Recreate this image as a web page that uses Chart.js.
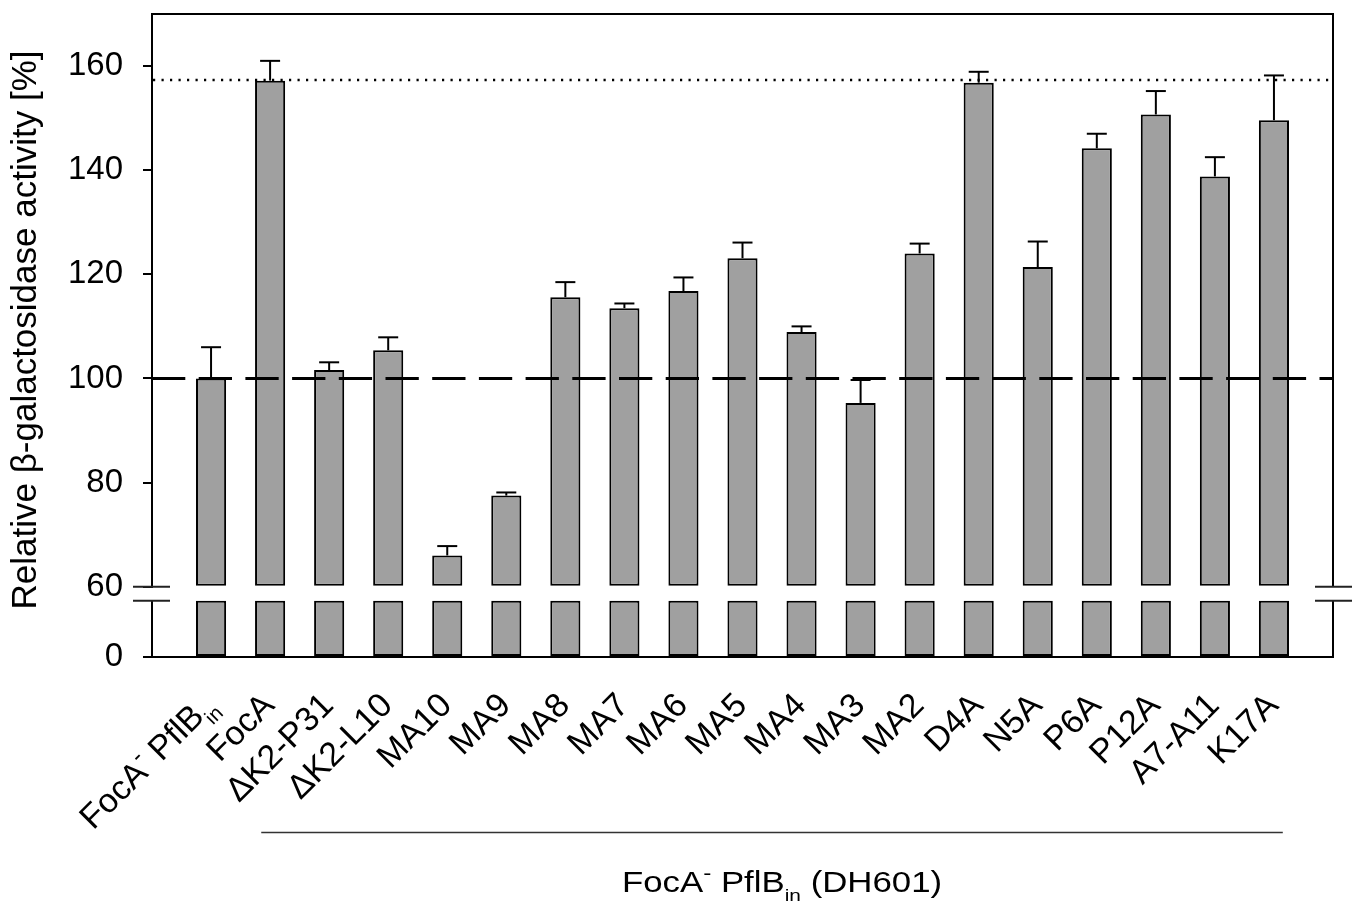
<!DOCTYPE html>
<html>
<head>
<meta charset="utf-8">
<script src="https://cdn.jsdelivr.net/npm/chart.js@4.4.1/dist/chart.umd.min.js"></script>
<style>
    html, body { margin: 0; padding: 0; background: #fff; }
    canvas { display: block; }
</style>
</head>
<body>
<canvas id="chart" width="1355" height="905"></canvas>
<script>
// ^x = superscript, _x = subscript
const categories = ['FocA^- PflB_in', 'FocA', 'ΔK2-P31', 'ΔK2-L10', 'MA10', 'MA9', 'MA8', 'MA7', 'MA6', 'MA5',
    'MA4', 'MA3', 'MA2', 'D4A', 'N5A', 'P6A', 'P12A', 'A7-A11', 'K17A']
const activity = [100, 157.2, 101.6, 105.4, 66.0, 77.5, 115.6, 113.5, 116.8, 123.1,
    108.9, 95.3, 124.0, 156.8, 121.4, 144.2, 150.7, 138.8, 149.6]
const errors = [6.0, 3.8, 1.5, 2.5, 1.8, 0.6, 2.9, 0.9, 2.6, 3.0,
    1.1, 4.4, 1.9, 2.1, 4.9, 2.8, 4.5, 3.7, 8.6]

const topTicks = [60, 80, 100, 120, 140, 160]
const bottomTicks = [0]

const controlLevel = 100     // dashed line
const focALevel = 157.3      // dotted line

// broken axis: upper part 60..170, lower part 0..50 with bars cut at 40
const TOP_MIN = 60
const TOP_MAX = 170
const BOT_MAX = 50
const BOT_BAR = 40

const yTitle = 'Relative β-galactosidase activity [%]'
const xTitle = 'FocA^- PflB_in (DH601)'

const FONT = '"Liberation Sans", Arial, sans-serif'
Chart.defaults.font.family = FONT
Chart.defaults.color = '#000'


const richParts = (text, size) => text.split(/([\^_]\S+)/).filter(s => s).map(s => {
    if (s[0] === '^') return { t: s.slice(1), size: size * 0.7, dy: -size * 0.42 }
    if (s[0] === '_') return { t: s.slice(1), size: size * 0.6, dy: size * 0.3 }
    return { t: s, size: size, dy: 0 }
})

// draws at current origin, baseline y = 0
const drawRich = (ctx, text, size, align) => {
    const parts = richParts(text, size)
    let total = 0
    parts.forEach(p => {
        ctx.font = `${p.size}px ${FONT}`
        p.w = ctx.measureText(p.t).width
        total += p.w
    })
    let cx = align === 'right' ? -total : -total / 2
    ctx.textAlign = 'left'
    ctx.textBaseline = 'alphabetic'
    parts.forEach(p => {
        ctx.font = `${p.size}px ${FONT}`
        ctx.fillText(p.t, cx, p.dy)
        cx += p.w
    })
}


const line = (ctx, x1, y1, x2, y2) => {
    ctx.beginPath()
    ctx.moveTo(x1, y1)
    ctx.lineTo(x2, y2)
    ctx.stroke()
}


const decorPlugin = {
    id: 'decor',
    afterDatasetsDraw(chart) {
        const { ctx, chartArea: a, scales: { x, yTop } } = chart
        ctx.save()
        ctx.strokeStyle = '#000'
        ctx.lineWidth = 2

        // error bars (upper only)
        activity.forEach((v, i) => {
            const px = x.getPixelForValue(i + 1)
            const y1 = yTop.getPixelForValue(v)
            const y2 = yTop.getPixelForValue(v + errors[i])
            line(ctx, px, y1, px, y2)
            line(ctx, px - 10, y2, px + 10, y2)
        })

        // reference lines
        ctx.lineWidth = 3
        ctx.setLineDash([33.3, 13.4])
        const yc = yTop.getPixelForValue(controlLevel)
        line(ctx, a.left, yc, a.right, yc)

        ctx.lineWidth = 2.5
        ctx.setLineDash([2.2, 6.3])
        const yf = yTop.getPixelForValue(focALevel)
        line(ctx, a.left + 1, yf, a.right, yf)
        ctx.restore()
    },
    afterDraw(chart) {
        const { ctx, chartArea: a, scales: { x, yTop, yBot } } = chart
        ctx.save()
        ctx.strokeStyle = '#000'
        ctx.lineWidth = 2

        const breakHi = yTop.getPixelForValue(TOP_MIN)
        const breakLo = yBot.getPixelForValue(BOT_BAR)

        // frame
        line(ctx, a.left - 1, a.top, a.right + 1, a.top)
        line(ctx, a.right, a.top, a.right, breakHi)
        line(ctx, a.right, breakLo, a.right, a.bottom + 1)
        line(ctx, a.left, breakLo, a.left, a.bottom)

        // break marks
        ctx.strokeStyle = '#222'
        ;[breakHi, breakLo].forEach(y => {
            line(ctx, a.left - 19, y, a.left + 18, y)
            line(ctx, a.right - 18, y, a.right + 19, y)
        })

        // category labels
        ctx.fillStyle = '#000'
        categories.forEach((c, i) => {
            ctx.save()
            ctx.translate(x.getPixelForValue(i + 1) + 6, a.bottom + 50)
            ctx.rotate(-Math.PI / 4)
            drawRich(ctx, c, 34, 'right')
            ctx.restore()
        })

        // group line and title
        ctx.strokeStyle = '#333'
        ctx.lineWidth = 1.5
        const gx1 = x.getPixelForValue(1.85)
        const gx2 = x.getPixelForValue(19.15)
        line(ctx, gx1, 832.5, gx2, 832.5)

        ctx.save()
        ctx.translate((gx1 + gx2) / 2 + 10, 892)
        ctx.scale(1.2, 1)
        drawRich(ctx, xTitle, 29, 'center')
        ctx.restore()

        // y title
        ctx.save()
        ctx.translate(26, 330)
        ctx.rotate(-Math.PI / 2)
        ctx.font = `35px ${FONT}`
        ctx.textAlign = 'center'
        ctx.textBaseline = 'middle'
        ctx.fillText(yTitle, 0, 0)
        ctx.restore()

        ctx.restore()
    }
}


const barStyle = {
    backgroundColor: '#a0a0a0',
    borderColor: '#000',
    borderWidth: 2,
    borderSkipped: false,
    grouped: false,
    barPercentage: 0.51,
    categoryPercentage: 1
}

const tickGrid = {
    drawOnChartArea: false,
    tickLength: 9,
    color: '#000',
    lineWidth: 2
}

// fixed axis sizes so the plot area sits where the original one does
const fitY = s => { s.width = 152; s.paddingTop = 0; s.paddingBottom = 0 }
const fitX = s => { s.height = 248; s.paddingLeft = 0; s.paddingRight = 0 }

new Chart(document.getElementById('chart'), {
    type: 'bar',
    data: {
        datasets: [
            {
                ...barStyle,
                yAxisID: 'yTop',
                base: TOP_MIN,
                data: activity.map((v, i) => ({ x: i + 1, y: v }))
            },
            {
                ...barStyle,
                yAxisID: 'yBot',
                data: activity.map((v, i) => ({ x: i + 1, y: Math.min(v, BOT_BAR) }))
            }
        ]
    },
    options: {
        responsive: false,
        animation: false,
        devicePixelRatio: 1,
        layout: { padding: { top: 14, right: 22, left: 0, bottom: 0 } },
        plugins: {
            legend: { display: false },
            tooltip: { enabled: false }
        },
        scales: {
            x: {
                type: 'linear',
                min: 0,
                max: 20,
                offset: false,
                ticks: { display: false },
                grid: { display: false, offset: false },
                border: { color: '#000', width: 2 },
                afterFit: fitX
            },
            yBot: {
                type: 'linear',
                position: 'left',
                stack: 'y',
                stackWeight: 70.3,
                min: 0,
                max: BOT_MAX,
                afterBuildTicks: s => { s.ticks = bottomTicks.map(v => ({ value: v })) },
                ticks: { font: { size: 33 }, color: '#000', padding: 20 },
                grid: tickGrid,
                border: { display: false },
                afterFit: fitY
            },
            yTop: {
                type: 'linear',
                position: 'left',
                stack: 'y',
                stackWeight: 572.7,
                min: TOP_MIN,
                max: TOP_MAX,
                afterBuildTicks: s => { s.ticks = topTicks.map(v => ({ value: v })) },
                ticks: { font: { size: 33 }, color: '#000', padding: 20 },
                grid: tickGrid,
                border: { color: '#000', width: 2 },
                afterFit: fitY
            }
        }
    },
    plugins: [decorPlugin]
})
</script>
</body>
</html>
